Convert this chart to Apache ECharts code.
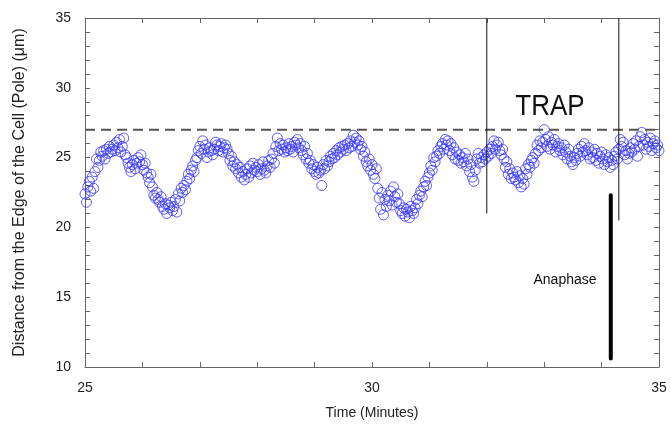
<!DOCTYPE html>
<html>
<head>
<meta charset="utf-8">
<script src="https://cdn.jsdelivr.net/npm/echarts@6/dist/echarts.min.js"></script>
<style>html,body{margin:0;padding:0;background:#fff}#c{width:671px;height:426px}</style>
</head>
<body>
<div id="c"></div>
<script>
// Sampling of the time axis (minutes)
const timeStart = 25;
const timeStep = 0.025;
// Distance from the edge of the cell (pole), µm — one value per sample
const distance = [
  22.4, 21.8, 22.9, 23.3, 22.6, 23.6, 22.8, 24.0, 24.9, 24.3,
  24.8, 25.4, 25.1, 25.5, 24.9, 25.6, 25.3, 25.8, 25.4, 25.6,
  25.9, 25.5, 26.1, 25.7, 26.3, 25.4, 25.8, 26.4, 25.2, 25.0,
  24.6, 24.3, 24.0, 24.5, 24.8, 24.2, 24.6, 25.0, 24.7, 25.2,
  24.5, 24.1, 24.6, 23.9, 23.6, 23.2, 23.8, 22.9, 22.3, 22.1,
  22.5, 22.0, 21.8, 22.2, 21.5, 21.3, 21.7, 21.0, 21.6, 21.4,
  21.8, 21.2, 21.5, 22.0, 21.1, 22.4, 21.9, 22.8, 22.5, 23.0,
  22.7, 23.3, 23.8, 23.5, 24.1, 24.4, 24.0, 24.8, 25.0, 25.5,
  25.8, 25.3, 26.2, 25.6, 25.9, 25.0, 25.4, 25.7, 25.5, 25.2,
  25.6, 26.1, 25.9, 25.5, 25.8, 26.0, 25.4, 25.7, 25.9, 25.6,
  25.3, 24.8, 25.1, 24.4, 24.7, 24.2, 24.5, 23.9, 24.3, 23.6,
  24.0, 23.4, 23.8, 24.2, 23.6, 24.4, 23.9, 24.6, 24.1, 24.3,
  24.0, 24.5, 23.8, 24.2, 24.7, 24.1, 23.9, 24.4, 24.8, 24.3,
  24.9, 25.3, 24.6, 25.8, 26.4, 25.5, 26.0, 25.6, 25.9, 25.4,
  25.7, 25.5, 26.0, 25.6, 25.8, 25.4, 26.1, 25.9, 26.3, 25.7,
  26.0, 25.5, 25.2, 25.8, 24.9, 25.3, 24.6, 24.8, 24.2, 24.5,
  24.0, 23.8, 24.3, 23.9, 24.1, 23.0, 24.5, 24.2, 24.8, 24.4,
  24.7, 25.1, 24.9, 25.3, 25.0, 25.5, 25.2, 25.7, 25.4, 25.8,
  25.6, 25.9, 25.5, 26.0, 25.7, 26.2, 25.8, 26.6, 26.1, 26.4,
  25.9, 26.2, 25.6, 25.8, 25.1, 25.4, 24.7, 24.4, 24.9, 24.1,
  24.5, 23.8, 23.5, 24.2, 22.8, 22.1, 21.3, 22.5, 20.9, 22.0,
  21.5, 22.3, 21.9, 22.6, 21.6, 22.9, 22.2, 21.8, 22.4, 21.7,
  21.2, 21.0, 21.4, 20.8, 21.3, 21.1, 20.7, 21.5, 21.2, 21.0,
  21.4, 22.0, 21.7, 22.3, 22.6, 22.2, 22.9, 23.3, 23.0, 23.6,
  23.9, 24.4, 24.1, 25.0, 24.7, 25.1, 25.5, 25.3, 25.8, 26.0,
  25.6, 26.3, 25.9, 26.2, 25.5, 26.0, 25.2, 25.7, 24.9, 25.4,
  24.8, 25.2, 24.6, 25.0, 24.7, 25.3, 24.4, 24.9, 24.0, 24.5,
  23.6, 23.3, 24.1, 24.9, 25.3, 24.6, 25.0, 24.7, 25.2, 24.9,
  25.4, 25.1, 25.6, 25.3, 25.8, 26.2, 25.6, 25.9, 26.1, 25.5,
  25.2, 25.6, 24.9, 24.3, 24.7, 23.8, 24.2, 23.5, 23.9, 23.6,
  23.4, 24.0, 23.2, 23.7, 22.9, 23.5, 23.1, 24.2, 23.8, 24.5,
  24.3, 24.8, 25.0, 24.6, 25.3, 25.9, 25.5, 26.2, 25.7, 26.1,
  27.0, 26.3, 25.8, 26.5, 25.6, 26.1, 25.9, 26.3, 25.4, 25.8,
  26.0, 25.5, 25.7, 25.2, 25.9, 25.4, 24.9, 25.6, 25.1, 24.7,
  24.5, 25.0, 24.8, 25.3, 25.6, 25.1, 25.8, 25.4, 26.0, 25.5,
  25.2, 25.7, 24.9, 25.4, 25.0, 25.6, 24.8, 25.3, 24.6, 25.1,
  25.4, 24.9, 24.5, 25.2, 24.7, 25.0, 24.3, 24.8, 24.5, 25.1,
  25.4, 24.9, 25.6, 26.3, 25.8, 26.1, 25.2, 25.5, 24.9, 25.3,
  25.7, 25.4, 26.0, 25.6, 26.2, 25.1, 25.8, 26.5, 26.8, 25.9,
  26.3, 25.6, 26.1, 25.8, 26.4, 25.5, 26.0, 26.2, 25.7, 25.9, 25.5
];
// Reference lines
const trapLevel = 27;
const trapLineX = [25, 35];
const trapStartLine = [[32.0, 35], [32.0, 21.0]];
const trapEndLine = [[34.3, 35], [34.3, 20.5]];
const anaphaseLine = [[34.16, 22.3], [34.16, 10.6]];
const xLabels = [25, 30, 35];
const yLabels = [10, 15, 20, 25, 30, 35];

const points = distance.map((v, i) => [timeStart + i * timeStep, v]);
const FONT = "'Liberation Sans', Arial, sans-serif";
const AX = '#666';

const chart = echarts.init(document.getElementById('c'), null, {renderer: 'canvas'});
const baseTick = {show: true, inside: true, length: 5, lineStyle: {color: AX, width: 1}};
chart.setOption({
  animation: false,
  backgroundColor: '#fff',
  grid: {left: 85, right: 12, top: 18, bottom: 59, containLabel: false},
  xAxis: [{
    type: 'value', min: 25, max: 35, interval: 1,
    name: 'Time (Minutes)', nameLocation: 'middle', nameGap: 39,
    nameTextStyle: {fontFamily: FONT, fontSize: 14, color: '#222'},
    axisLine: {show: true, lineStyle: {color: AX, width: 1}},
    axisTick: baseTick,
    axisLabel: {fontFamily: FONT, fontSize: 14, color: '#222', margin: 14,
      formatter: v => xLabels.includes(Math.round(v)) && Math.abs(v - Math.round(v)) < 1e-6 ? String(Math.round(v)) : ''},
    splitLine: {show: false}
  }, {
    type: 'value', min: 25, max: 35, interval: 1, position: 'top',
    axisLine: {show: true, lineStyle: {color: AX, width: 1}},
    axisTick: baseTick, axisLabel: {show: false}, splitLine: {show: false}
  }],
  yAxis: [{
    type: 'value', min: 10, max: 35, interval: 1,
    name: 'Distance from the Edge of the Cell (Pole) (\u03bcm)', nameLocation: 'middle', nameGap: 57,
    nameTextStyle: {fontFamily: FONT, fontSize: 16, color: '#222'},
    axisLine: {show: true, lineStyle: {color: AX, width: 1}},
    axisTick: baseTick,
    axisLabel: {fontFamily: FONT, fontSize: 14, color: '#222', margin: 14,
      formatter: v => yLabels.includes(Math.round(v)) && Math.abs(v - Math.round(v)) < 1e-6 ? String(Math.round(v)) : ''},
    splitLine: {show: false}
  }, {
    type: 'value', min: 10, max: 35, interval: 1, position: 'right',
    axisLine: {show: true, lineStyle: {color: AX, width: 1}},
    axisTick: baseTick, axisLabel: {show: false}, splitLine: {show: false}
  }],
  series: [
    {
      type: 'scatter', data: points, symbol: 'circle', symbolSize: 10,
      itemStyle: {color: 'rgba(0,0,0,0)', borderColor: '#3535ff', borderWidth: 1}, z: 3
    },
    {
      type: 'line', data: trapLineX.map(x => [x, trapLevel]), symbol: 'none',
      lineStyle: {color: '#555', width: 2, type: [10, 6]}, z: 4
    },
    {
      type: 'line', data: trapStartLine, symbol: 'none',
      lineStyle: {color: '#111', width: 1}, z: 4
    },
    {
      type: 'line', data: trapEndLine, symbol: 'none',
      lineStyle: {color: '#111', width: 1}, z: 4
    },
    {
      type: 'line', data: anaphaseLine, symbol: 'none',
      lineStyle: {color: '#000', width: 4, cap: 'round'}, z: 4
    }
  ],
  graphic: [
    {type: 'text', x: 550, y: 107, scaleY: 1.1, style: {text: 'TRAP', fontFamily: FONT, fontSize: 26, fill: '#111', align: 'center', verticalAlign: 'middle'}},
    {type: 'text', x: 565, y: 280, scaleY: 1.1, style: {text: 'Anaphase', fontFamily: FONT, fontSize: 14, fill: '#111', align: 'center', verticalAlign: 'middle'}}
  ]
});
</script>
</body>
</html>
